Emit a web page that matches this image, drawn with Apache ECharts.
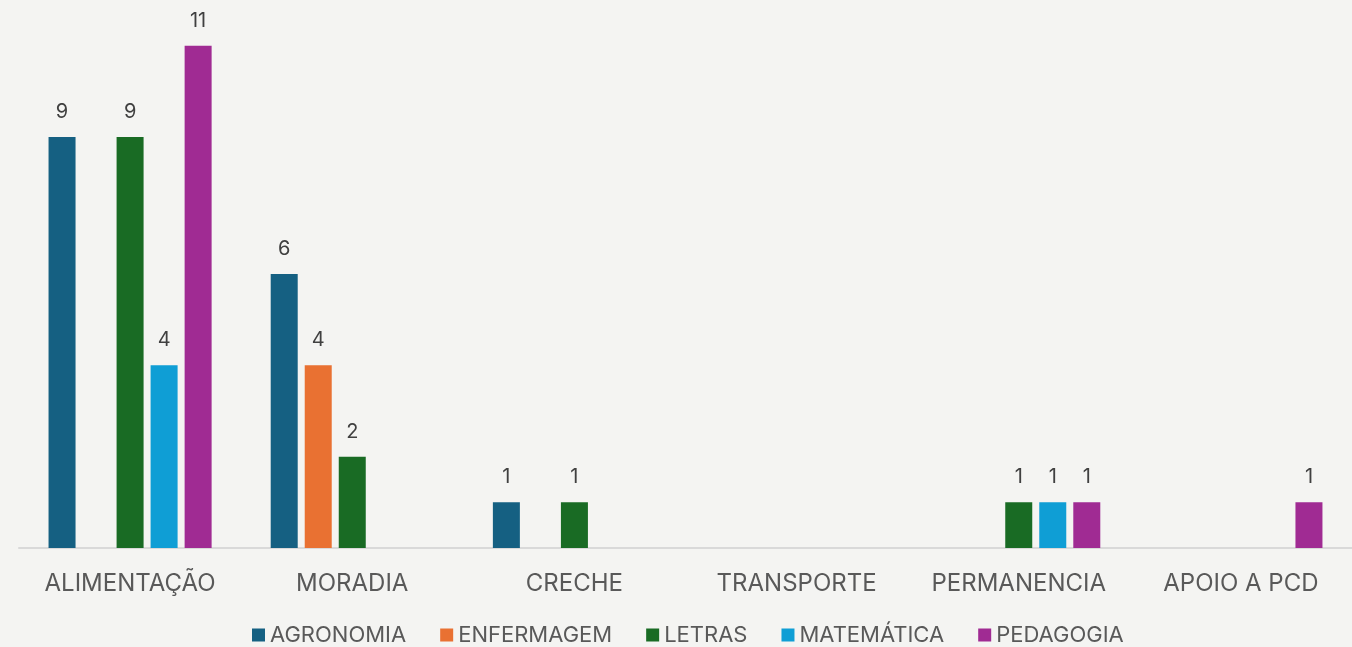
<!DOCTYPE html>
<html>
<head>
<meta charset="utf-8">
<script src="https://cdn.jsdelivr.net/npm/echarts@6/dist/echarts.min.js"></script>
<style>
  html, body { margin: 0; padding: 0; background: #f4f4f2; }
  #chart { width: 1352px; height: 647px; }
</style>
</head>
<body>
<div id="chart"></div>
<script>
var myChart = echarts.init(document.getElementById('chart'));

var categories = ['ALIMENTAÇÃO', 'MORADIA', 'CRECHE', 'TRANSPORTE', 'PERMANENCIA', 'APOIO A PCD'];
var seriesNames = ['AGRONOMIA', 'ENFERMAGEM', 'LETRAS', 'MATEMÁTICA', 'PEDAGOGIA'];
var agronomia = [9, 6, 1, null, null, null];
var enfermagem = [null, 4, null, null, null, null];
var letras = [9, 2, 1, null, 1, null];
var matematica = [4, null, null, null, 1, null];
var pedagogia = [11, null, null, null, 1, 1];
var colors = ['#156082', '#e97132', '#196b24', '#0f9ed5', '#a02b93'];

var allData = [agronomia, enfermagem, letras, matematica, pedagogia];
var font = 'Inter, "Open Sans", sans-serif';

var series = seriesNames.map(function (name, i) {
  return {
    name: name,
    type: 'bar',
    data: allData[i],
    barWidth: 27,
    barGap: '26%',
    itemStyle: { color: colors[i] },
    label: {
      show: true,
      position: 'top',
      distance: 15,
      color: '#404040',
      fontSize: 20,
      fontFamily: font
    }
  };
});

var option = {
  backgroundColor: '#f4f4f2',
  animation: false,
  grid: { left: 19, right: 0, top: 0, bottom: 99 },
  legend: {
    top: 624,
    left: 252,
    padding: 0,
    data: seriesNames,
    icon: 'rect',
    itemWidth: 13,
    itemHeight: 13,
    itemGap: 34,
    textStyle: { color: '#595959', fontSize: 22, fontFamily: font }
  },
  xAxis: {
    type: 'category',
    data: categories,
    axisLine: { lineStyle: { color: '#d9d9d9', width: 2 } },
    axisTick: { show: false },
    axisLabel: { color: '#595959', fontSize: 24, fontFamily: font, margin: 24, interval: 0 }
  },
  yAxis: {
    type: 'value',
    min: 0,
    max: 12,
    show: false,
    splitLine: { show: false }
  },
  series: series
};

myChart.setOption(option);
</script>
</body>
</html>
